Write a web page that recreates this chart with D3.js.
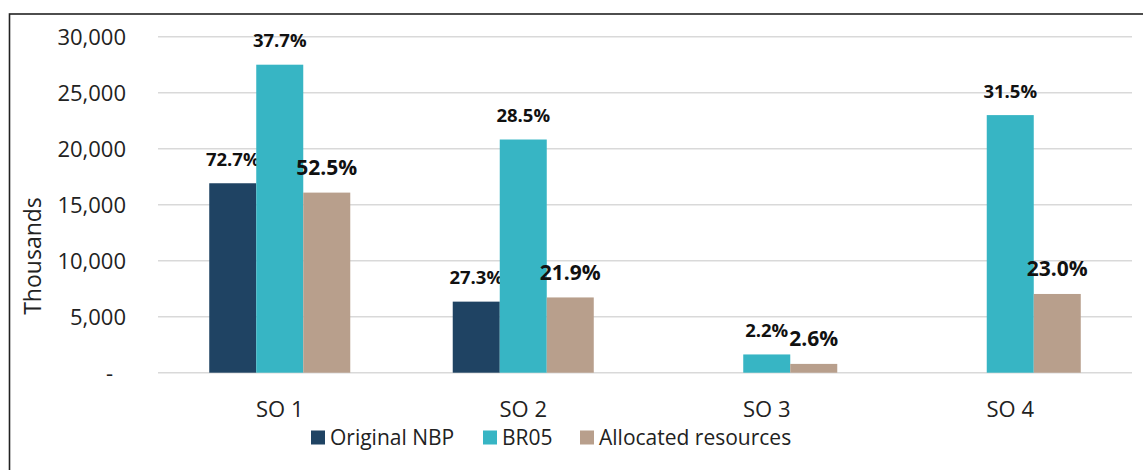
<!DOCTYPE html>
<html><head><meta charset="utf-8">
<script src="https://cdn.jsdelivr.net/npm/d3@7"></script>
<style>body{margin:0;background:#fff;} svg{display:block;font-family:"Open Sans",sans-serif;}</style>
</head><body><svg id="c" width="1143" height="470"></svg>
<script>
const categories = ["SO 1", "SO 2", "SO 3", "SO 4"];
const seriesNames = ["Original NBP", "BR05", "Allocated resources"];
const originalNBP = [16915, 6345, null, null];
const br05 = [27500, 20820, 1630, 23000];
const allocated = [16080, 6720, 785, 7030];
const labelsNBP = ["72.7%", "27.3%", null, null];
const labelsBR05 = ["37.7%", "28.5%", "2.2%", "31.5%"];
const labelsAlloc = ["52.5%", "21.9%", "2.6%", "23.0%"];
const yTicks = [0, 5000, 10000, 15000, 20000, 25000, 30000];
const colors = ["#1f4363", "#37b5c4", "#b89f8c"];

const svg = d3.select("#c");
svg.append("rect").attr("x", 9.5).attr("y", 14).attr("width", 1300).attr("height", 600)
  .attr("fill", "none").attr("stroke", "#222").attr("stroke-width", 1.6);

const L = 158, R = 1132, T = 36.7, B = 372.7;
const x0 = d3.scaleBand().domain(categories).range([L, R]).padding(0);
const x1 = d3.scaleBand().domain(seriesNames).range([0, x0.bandwidth()]).paddingInner(0).paddingOuter(1.09);
const y = d3.scaleLinear().domain([0, 30000]).range([B, T]);

// gridlines
svg.append("g").selectAll("line").data(yTicks).join("line")
  .attr("x1", L).attr("x2", R).attr("y1", d => y(d)).attr("y2", d => y(d))
  .attr("stroke", "#d9d9d9").attr("stroke-width", 1.5);

// y axis labels
const fmt = d3.format(",");
const yAxis = d3.axisLeft(y).tickValues(yTicks).tickSize(0).tickPadding(0)
  .tickFormat(d => d === 0 ? "-" : fmt(d));
const gy = svg.append("g").attr("transform", "translate(126,0)").call(yAxis);
gy.select(".domain").remove();
gy.selectAll("text").attr("font-size", 22).attr("fill", "#222")
  .attr("font-family", "'Open Sans',sans-serif")
  .attr("dx", d => d === 0 ? -13 : 0).attr("dy", "0.34em");

svg.append("text").attr("transform", "translate(41,256) rotate(-90)")
  .attr("text-anchor", "middle").attr("font-size", 23).attr("fill", "#222").text("Thousands");

// category labels
const xAxis = d3.axisBottom(x0).tickSize(0).tickPadding(0);
const gx = svg.append("g").attr("transform", "translate(0,417)").call(xAxis);
gx.select(".domain").remove();
gx.selectAll("text").attr("font-size", 22).attr("fill", "#222")
  .attr("font-family", "'Open Sans',sans-serif").attr("dy", 0);

const series = [
  {name: seriesNames[0], values: originalNBP, labels: labelsNBP, fs: 18.5},
  {name: seriesNames[1], values: br05, labels: labelsBR05, fs: 18.5},
  {name: seriesNames[2], values: allocated, labels: labelsAlloc, fs: 21}
];

series.forEach((s, si) => {
  const rows = categories.map((c, i) => ({c, v: s.values[i], lab: s.labels[i]})).filter(r => r.v != null);
  svg.append("g").selectAll("rect").data(rows).join("rect")
    .attr("x", r => x0(r.c) + x1(s.name))
    .attr("width", x1.bandwidth())
    .attr("y", r => y(r.v)).attr("height", r => y(0) - y(r.v))
    .attr("fill", colors[si]);
  svg.append("g").selectAll("text").data(rows).join("text")
    .attr("x", r => x0(r.c) + x1(s.name) + x1.bandwidth() / 2)
    .attr("y", r => y(r.v) - 17.5)
    .attr("text-anchor", "middle").attr("font-weight", "bold")
    .attr("font-size", s.fs).attr("fill", "#111").text(r => r.lab);
});

// legend
const legendX = [311, 483, 580];
const lg = svg.append("g");
seriesNames.forEach((n, i) => {
  lg.append("rect").attr("x", legendX[i]).attr("y", 430.5).attr("width", 14).attr("height", 14).attr("fill", colors[i]);
  lg.append("text").attr("x", legendX[i] + 19).attr("y", 445).attr("font-size", 21).attr("fill", "#222").text(n);
});
</script></body></html>
